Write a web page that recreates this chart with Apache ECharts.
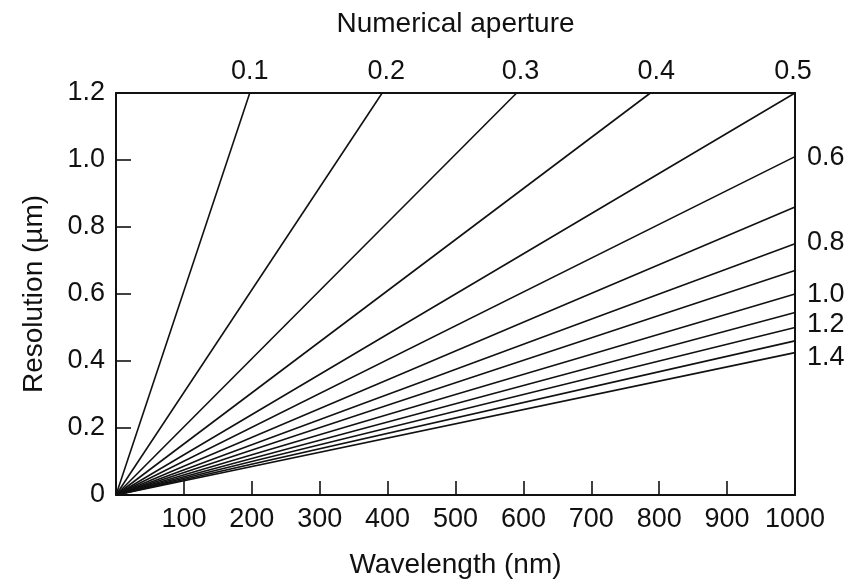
<!DOCTYPE html>
<html>
<head>
<meta charset="utf-8">
<script src="https://cdn.jsdelivr.net/npm/echarts@6/dist/echarts.min.js"></script>
<style>
  html, body { margin: 0; padding: 0; background: #fff; }
  #chart { width: 849px; height: 579px; }
</style>
</head>
<body>
<div id="chart"></div>
<script>
// numerical aperture of each line
const naValues = ['0.1', '0.2', '0.3', '0.4', '0.5', '0.6', '0.7', '0.8', '0.9', '1.0', '1.1', '1.2', '1.3', '1.4']
// where each line ends (all start at 0, 0)
const endWavelength = [197, 392, 590, 787, 1000, 1000, 1000, 1000, 1000, 1000, 1000, 1000, 1000, 1000]
const endResolution = [1.2, 1.2, 1.2, 1.2, 1.2, 1.01, 0.86, 0.75, 0.67, 0.60, 0.545, 0.50, 0.46, 0.425]
// lines that carry a label
const labelledNA = ['0.1', '0.2', '0.3', '0.4', '0.5', '0.6', '0.8', '1.0', '1.2', '1.4']

const font = 'Liberation Sans, Arial, Helvetica, sans-serif'
const ink = '#111'

// nudge the labels a little, like the original
const rightOffset = { '0.6': 1, '0.8': -1, '1.0': 1, '1.2': -3, '1.4': 5 }
const topOffset = { '0.1': 0, '0.2': 4, '0.3': 4, '0.4': 6, '0.5': -2 }

const series = naValues.map((na, i) => {
    const atTop = endResolution[i] >= 1.2
    const end = { value: [endWavelength[i], endResolution[i]] }
    if (labelledNA.includes(na)) {
        end.label = atTop ? {
            show: true,
            position: [topOffset[na] || 0, -8],
            align: 'center',
            verticalAlign: 'bottom',
            formatter: na
        } : {
            show: true,
            position: [12, rightOffset[na] || 0],
            align: 'left',
            verticalAlign: 'middle',
            formatter: na
        }
    }
    return {
        name: na,
        type: 'line',
        data: [[0, 0], end],
        symbol: 'circle',
        symbolSize: 0,
        showSymbol: true,
        silent: true,
        clip: false,
        lineStyle: { color: ink, width: 1.6 },
        itemStyle: { color: ink },
        label: { show: false, color: ink, fontSize: 27, fontFamily: font },
        labelLayout: { hideOverlap: false },
        z: 3
    }
})

const chart = echarts.init(document.getElementById('chart'))
chart.setOption({
    backgroundColor: '#fff',
    animation: false,
    textStyle: { fontFamily: font, color: ink },
    grid: { left: 116, right: 54, top: 93, bottom: 84, outerBoundsMode: 'none' },
    xAxis: [{
        type: 'value',
        min: 0,
        max: 1000,
        interval: 100,
        name: 'Wavelength (nm)',
        nameLocation: 'middle',
        nameGap: 56,
        nameTextStyle: { fontSize: 28, color: ink, fontFamily: font },
        axisLine: { show: true, onZero: false, lineStyle: { color: ink, width: 2 } },
        axisTick: { show: true, inside: true, length: 14, lineStyle: { color: ink, width: 1.6 } },
        axisLabel: {
            fontSize: 27, color: ink, fontFamily: font, margin: 11,
            formatter: v => v === 0 ? '' : String(v)
        },
        splitLine: { show: false }
    }, {
        type: 'value',
        position: 'top',
        min: 0,
        max: 1000,
        name: 'Numerical aperture',
        nameLocation: 'middle',
        nameGap: 55,
        nameTextStyle: { fontSize: 28, color: ink, fontFamily: font },
        axisLine: { show: true, onZero: false, lineStyle: { color: ink, width: 2 } },
        axisTick: { show: false },
        axisLabel: { show: false },
        splitLine: { show: false }
    }],
    yAxis: [{
        type: 'value',
        min: 0,
        max: 1.2,
        interval: 0.2,
        name: 'Resolution (µm)',
        nameLocation: 'middle',
        nameGap: 68,
        nameTextStyle: { fontSize: 28, color: ink, fontFamily: font },
        axisLine: { show: true, onZero: false, lineStyle: { color: ink, width: 2 } },
        axisTick: { show: true, inside: true, length: 15, lineStyle: { color: ink, width: 1.6 } },
        axisLabel: {
            fontSize: 27, color: ink, fontFamily: font, margin: 11,
            padding: [3, 0, 0, 0],
            formatter: v => v === 0 ? '0' : v.toFixed(1)
        },
        splitLine: { show: false }
    }, {
        type: 'value',
        position: 'right',
        min: 0,
        max: 1.2,
        axisLine: { show: true, onZero: false, lineStyle: { color: ink, width: 2 } },
        axisTick: { show: false },
        axisLabel: { show: false },
        splitLine: { show: false }
    }],
    series
})
</script>
</body>
</html>
